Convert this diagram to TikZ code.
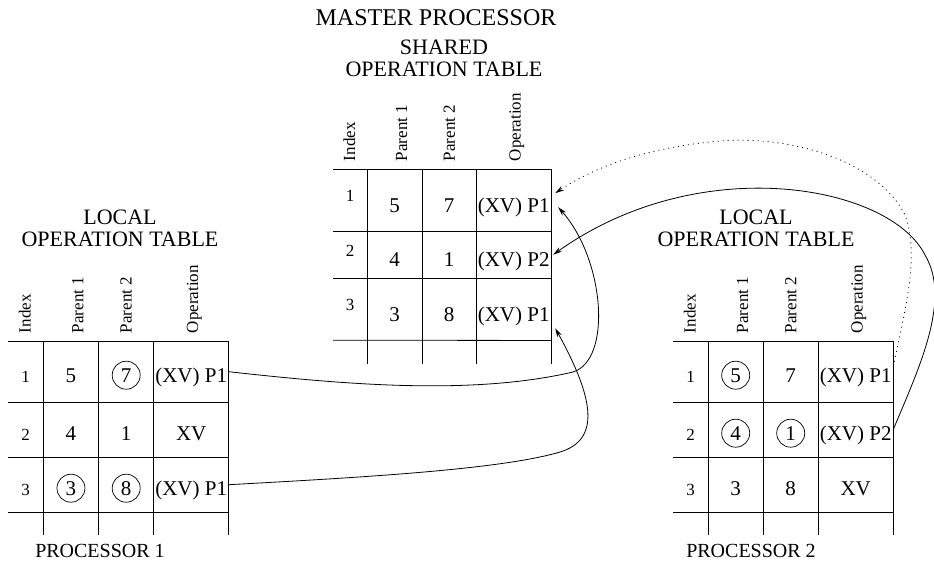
\documentclass[tikz,border=0pt]{standalone}
\usepackage{fontspec}
\setmainfont{Liberation Serif}
\usetikzlibrary{matrix,arrows.meta}

\newcommand\valfont{\fontsize{21}{21}\selectfont}
\newcommand\idxfont{\fontsize{17}{17}\selectfont}
\newcommand\hdrfont{\fontsize{17}{17}\selectfont}
\newcommand\ttlfont{\fontsize{22}{22}\selectfont}

\tikzset{
  optab/.style={matrix of nodes,nodes in empty cells,inner sep=0pt,anchor=north west,
    nodes={anchor=center,inner sep=0pt,outer sep=0pt,font=\valfont,text height=22pt,text depth=1pt}},
  colw/.style n args={4}{%column widths, index column in smaller digits
    column 1/.style={nodes={minimum width=#1,font=\idxfont}},
    column 2/.style={nodes={minimum width=#2}},
    column 3/.style={nodes={minimum width=#3}},
    column 4/.style={nodes={minimum width=#4}}},
  rowh/.style n args={4}{%row heights, last row is the open stub
    row 1/.style={nodes={minimum height=#1}},
    row 2/.style={nodes={minimum height=#2}},
    row 3/.style={nodes={minimum height=#3}},
    row 4/.style={nodes={minimum height=#4}}},
  gridln/.style={line width=0.8pt},
  hdr/.style={rotate=90,anchor=west,inner sep=0pt,font=\hdrfont},
  ttl/.style={inner sep=0pt,font=\ttlfont,align=center},
  ring/.style={draw,circle,minimum size=28pt,inner sep=0pt,line width=0.7pt},
  link/.style={line width=0.8pt,-{Stealth[length=9pt,width=5pt]}},
  dots/.style={dash pattern=on 1pt off 4pt}
}

\begin{document}
\begin{tikzpicture}[x=1pt,y=-1pt]
\useasboundingbox (0,0) rectangle (934,571);

\matrix[optab,colw={35pt}{55.5pt}{55pt}{75pt},rowh={61pt}{55pt}{55pt}{18pt}] (loc1) at (8,341) {
1 & 5 & 7 & (XV) P1 \\
2 & 4 & 1 & XV      \\
3 & 3 & 8 & (XV) P1 \\
  &   &   &         \\
};
\matrix[optab,colw={34pt}{55pt}{54pt}{75pt},rowh={62pt}{47pt}{62pt}{20pt},
        nodes={text height=24pt,text depth=0pt},%values sit a bit low here
        column 1/.append style={nodes={text height=14pt,text depth=10.5pt}}
        ] (shr) at (333,169) {
1 & 5 & 7 & (XV) P1 \\
2 & 4 & 1 & (XV) P2 \\
3 & 3 & 8 & (XV) P1 \\
  &   &   &         \\
};
\matrix[optab,colw={35pt}{55pt}{55pt}{75pt},rowh={61pt}{55pt}{55pt}{18pt}] (loc2) at (673,341) {
1 & 5 & 7 & (XV) P1 \\
2 & 4 & 1 & (XV) P2 \\
3 & 3 & 8 & XV      \\
  &   &   &         \\
};

% rules and column headers
\foreach \t in {loc1,shr,loc2}{
  \foreach \r in {1,...,4}
    \draw[gridln] (\t-\r-1.north west) -- (\t-\r-4.north east);
  \foreach \c in {2,3,4}
    \draw[gridln] (\t-1-\c.north west) -- (\t-4-\c.south west);
  \draw[gridln] (\t-1-4.north east) -- (\t-4-4.south east);
  \foreach \c/\h/\dx in {1/Index/-1,2/Parent 1/7,3/Parent 2/0,4/Operation/3}
    \node[hdr] (\t-h\c) at ([xshift=\dx pt,yshift=8pt]\t-1-\c.north) {\h};
}

% circled entries
\foreach \c in {loc1-1-3,loc1-3-2,loc1-3-3,loc2-1-2,loc2-2-2,loc2-2-3}
  \node[ring] (\c-o) at ([yshift=7pt]\c.base) {};

\node[ttl,anchor=base,font=\fontsize{24}{24}\selectfont] (mast) at (436,25) {MASTER PROCESSOR};
\node[ttl] (shrT) at (444,58.5) {SHARED\\OPERATION TABLE};
\node[ttl] (loc1T) at (120,228.5) {LOCAL\\OPERATION TABLE};
\node[ttl] (loc2T) at (756,228) {LOCAL\\OPERATION TABLE};
\node[ttl,anchor=base,font=\fontsize{20}{20}\selectfont] (pr1) at (100,557) {PROCESSOR 1};
\node[ttl,anchor=base,font=\fontsize{20}{20}\selectfont] (pr2) at (751,557) {PROCESSOR 2};

\draw[link] (loc1-1-4.east) .. controls (340,384) and (470,396) .. (573,372)
  .. controls (612,360) and (605,260) .. ([shift={(7,7)}]shr-1-4.east);
\draw[link] (loc1-3-4.east) .. controls (350,478) and (500,470) .. (560,452)
  .. controls (600,440) and (595,400) .. ([shift={(4,19)}]shr-3-4.east);
\draw[link] (loc2-2-4.east) .. controls (918,370) and (952,300) .. (925,255)
  .. controls (890,185) and (700,150) .. ([xshift=2pt]shr-2-4.east);
\draw[link,dots] ([yshift=5pt]loc2-1-4.east) .. controls (905,310) and (920,255) .. (905,215)
  .. controls (880,165) and (800,135) .. (720,141)
  .. controls (640,148) and (590,170) .. ([shift={(4,-7)}]shr-1-4.east);
\end{tikzpicture}
\end{document}
